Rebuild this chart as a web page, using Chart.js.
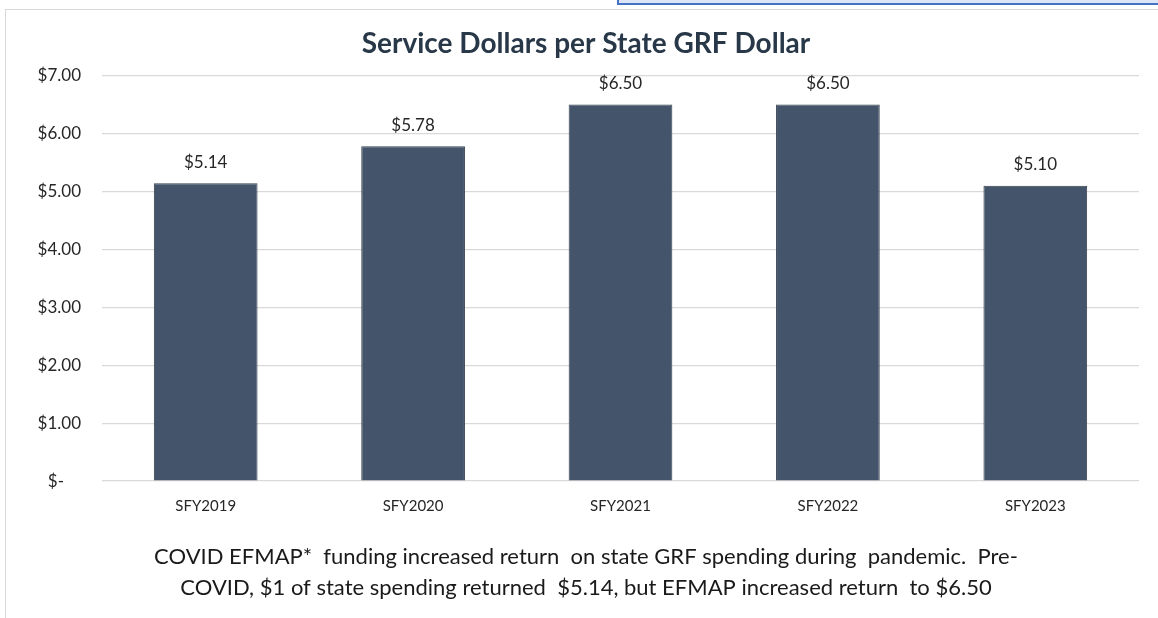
<!DOCTYPE html>
<html>
<head>
<meta charset="utf-8">
<script src="https://cdn.jsdelivr.net/npm/chart.js@4"></script>
<style>
  html, body { margin: 0; padding: 0; background: #fff; }
  #wrap { position: relative; width: 1158px; height: 618px; overflow: hidden; }
  #frame { position: absolute; left: 5px; top: 9px; width: 1200px; height: 700px; border-left: 1px solid #d9d9d9; border-top: 1px solid #d9d9d9; }
  #sel { position: absolute; left: 617px; top: -10px; width: 600px; height: 11px; border: 2px solid #4472c4; background: #dbe5f5; }
  canvas { position: absolute; left: 0; top: 0; }
</style>
</head>
<body>
<div id="wrap">
  <div id="frame"></div>
  <div id="sel"></div>
  <canvas id="chart" width="1158" height="618"></canvas>
</div>
<script>
const years = ['SFY2019', 'SFY2020', 'SFY2021', 'SFY2022', 'SFY2023'];
const serviceDollars = [5.14, 5.78, 6.50, 6.50, 5.10];
const titleText = 'Service Dollars per State GRF Dollar';
const caption = [
  'COVID EFMAP*  funding increased return  on state GRF spending during  pandemic.  Pre-',
  'COVID, $1 of state spending returned  $5.14, but EFMAP increased return  to $6.50'
];

const FONT = 'Lato, "Open Sans", sans-serif';

function money(v) {
  return v === 0 ? '$-\u2002\u2002' : '$' + v.toFixed(2);
}

const barLabels = {
  id: 'barLabels',
  afterDatasetsDraw(chart) {
    const ctx = chart.ctx;
    const meta = chart.getDatasetMeta(0);
    ctx.save();
    ctx.font = '17px ' + FONT;
    ctx.fillStyle = '#262626';
    ctx.textAlign = 'center';
    ctx.textBaseline = 'middle';
    meta.data.forEach((bar, i) => {
      ctx.fillText(money(serviceDollars[i]), bar.x, bar.y - 21);
    });
    ctx.restore();
  }
};

new Chart(document.getElementById('chart'), {
  type: 'bar',
  data: {
    labels: years,
    datasets: [{
      data: serviceDollars,
      backgroundColor: '#44546a',
      borderColor: '#35414f',
      borderWidth: 1,
      categoryPercentage: 1,
      barPercentage: 0.5
    }]
  },
  options: {
    responsive: false,
    animation: false,
    layout: { padding: { left: 33, right: 19, top: 0, bottom: 0 } },
    plugins: {
      legend: { display: false },
      tooltip: { enabled: false },
      title: {
        display: true,
        text: titleText,
        color: '#283848',
        font: { family: FONT, size: 28, weight: 'bold' },
        padding: { top: 27, bottom: 15 }
      },
      subtitle: {
        display: true,
        position: 'bottom',
        text: caption,
        color: '#1a1a1a',
        font: { family: FONT, size: 22, lineHeight: 1.43 },
        padding: { top: 18, bottom: 14 }
      }
    },
    scales: {
      x: {
        grid: { display: false },
        border: { display: false },
        ticks: { color: '#262626', font: { family: FONT, size: 15 }, padding: 8 }
      },
      y: {
        min: 0,
        max: 7,
        afterFit(scale) { scale.width = 69; },
        grid: { color: '#d9d9d9', lineWidth: 1.2, drawTicks: false },
        border: { display: false },
        ticks: {
          stepSize: 1,
          padding: 21,
          color: '#262626',
          font: { family: FONT, size: 17 },
          callback: v => money(v)
        }
      }
    }
  },
  plugins: [barLabels]
});
</script>
</body>
</html>
